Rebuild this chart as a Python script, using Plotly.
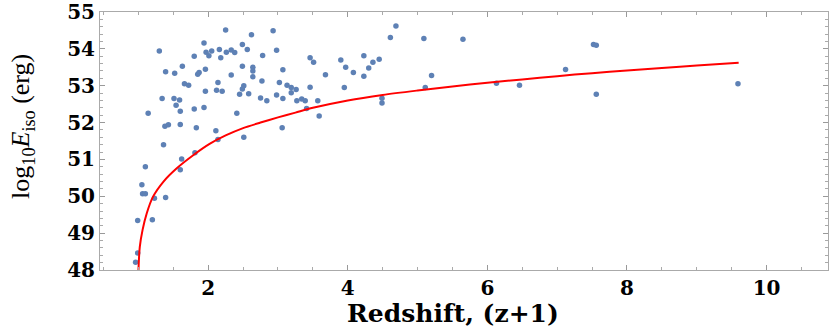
import plotly.graph_objects as go

# GRB sample: (z+1) vs log10 Eiso
redshift = [
    2.25, 2.62, 2.93, 1.94, 2.49, 1.30, 1.97, 2.05, 2.16, 2.26, 2.33, 2.38, 2.56,
    2.01, 2.18, 1.80, 2.78, 2.98, 1.63, 1.96, 2.49, 2.64, 2.64, 1.39, 1.52,
    1.87, 1.85, 2.33, 2.64, 3.07, 2.77, 2.14, 1.66, 1.72, 3.02, 3.13, 2.51, 2.49,
    3.19, 3.26, 1.96, 2.12, 2.20, 2.45, 2.58, 3.19, 2.98, 1.34, 1.51, 1.59, 2.75,
    2.84, 3.07, 3.27, 1.54, 1.80, 1.94, 1.60, 1.14, 2.41, 1.38, 1.43, 1.60, 1.83,
    3.06, 2.11, 2.51, 1.36, 2.14, 1.81, 1.62,
    1.10, 1.60, 1.05, 1.06, 1.10, 1.23, 1.39, 0.99, 1.20, 0.99, 0.96,
    4.69, 4.61, 5.09, 5.65, 3.46, 3.51, 3.90, 4.23, 4.36, 4.45, 3.97, 4.08, 4.30,
    4.23, 3.68, 3.46, 3.95, 5.20, 5.11, 7.12, 6.13, 6.46, 3.34, 3.39, 3.57, 3.41,
    3.59, 4.49, 4.49, 7.52, 7.56, 7.56, 9.59,
]
log_eiso = [
    54.51, 54.38, 54.49, 54.16, 54.12, 53.94, 53.91, 53.94, 53.98, 53.91, 53.97, 53.90, 53.98,
    53.81, 53.76, 53.80, 53.82, 53.96, 53.53, 53.45, 53.53, 53.50, 53.40, 53.38, 53.34,
    53.36, 53.31, 53.29, 53.24, 53.43, 53.13, 53.09, 53.05, 53.01, 53.09, 53.01, 53.00, 52.91,
    52.95, 52.90, 52.85, 52.88, 52.85, 52.77, 52.78, 52.81, 52.75, 52.65, 52.65, 52.61, 52.67,
    52.59, 52.65, 52.59, 52.47, 52.37, 52.41, 52.31, 52.25, 52.25, 51.90, 51.94, 51.95, 51.86,
    51.86, 51.78, 51.60, 51.40, 51.54, 51.18, 51.01,
    50.80, 50.72, 50.31, 50.07, 50.07, 49.95, 49.97, 49.34, 49.36, 48.46, 48.21,
    54.62, 54.31, 54.28, 54.26, 53.76, 53.64, 53.70, 53.81, 53.64, 53.72, 53.50, 53.36, 53.48,
    53.26, 53.30, 52.96, 52.95, 53.28, 52.95, 53.44, 53.07, 53.01, 52.64, 52.59, 52.59, 52.38,
    52.18, 52.66, 52.53, 54.12, 54.10, 52.77, 53.05,
]

# detection threshold curve
curve_x = [1.00, 1.02, 1.06, 1.12, 1.21, 1.36, 1.55, 1.79, 2.02, 2.25, 2.50, 2.75, 3.00, 3.25, 3.50,
           4.00, 4.50, 5.00, 5.50, 6.00, 6.50, 7.00, 7.50, 8.00, 8.50, 9.00, 9.60]
curve_y = [47.95, 48.63, 49.09, 49.54, 49.99, 50.40, 50.76, 51.12, 51.42, 51.65, 51.85, 52.00, 52.14,
           52.27, 52.40, 52.60, 52.75, 52.87, 52.98, 53.08, 53.17, 53.26, 53.34, 53.41, 53.48,
           53.55, 53.62]

x_ticks = [2, 4, 6, 8, 10]
y_ticks = [48, 49, 50, 51, 52, 53, 54, 55]

fig = go.Figure()
fig.add_trace(go.Scatter(
    x=redshift, y=log_eiso, mode='markers',
    marker=dict(color='#5E81B5', size=5.5),
))
fig.add_trace(go.Scatter(
    x=curve_x, y=curve_y, mode='lines',
    line=dict(color='#FF0000', width=2, shape='spline', smoothing=0.8),
))

axis_font = dict(family='DejaVu Serif', size=20, color='black')
frame = dict(ticks='inside', ticklen=5, tickcolor='#999', showline=True, linecolor='#aaa',
             mirror='allticks', showgrid=False, zeroline=False, tickfont=axis_font,
             automargin=False, ticklabeloverflow='allow')

fig.update_layout(
    width=830, height=327,
    margin=dict(l=100, r=2, t=12, b=57),
    plot_bgcolor='white', paper_bgcolor='white',
    showlegend=False,
    xaxis=dict(range=[0.45, 10.88], tickvals=x_ticks,
               ticktext=['<b>%d</b>' % v for v in x_ticks],
               minor=dict(dtick=0.5, tick0=0, ticks='inside', ticklen=3, tickcolor='#aaa'),
               **frame),
    yaxis=dict(range=[48, 55], tickvals=y_ticks,
               ticktext=['<b>%d</b>' % v for v in y_ticks],
               minor=dict(dtick=0.2, tick0=48, ticks='inside', ticklen=3, tickcolor='#aaa'),
               **frame),
)

# axis titles
fig.add_annotation(text='<b>Redshift, (z+1)</b>', xref='paper', yref='paper', x=0.485, y=0,
                   yshift=-43, xanchor='center', yanchor='middle', showarrow=False,
                   font=dict(family='DejaVu Serif', size=25, color='black'))
fig.add_annotation(text='log<sub>10</sub><i>E</i><sub>iso</sub> (erg)', xref='paper', yref='paper',
                   x=-0.107, y=0.555, textangle=-90, xanchor='center', yanchor='middle',
                   showarrow=False, font=dict(family='Liberation Serif', size=26, color='black'))

# drop the default body margin so the figure fills the window
fig.write_html("out.html", config={'displayModeBar': False},
               post_script="document.body.style.margin='0px';")
